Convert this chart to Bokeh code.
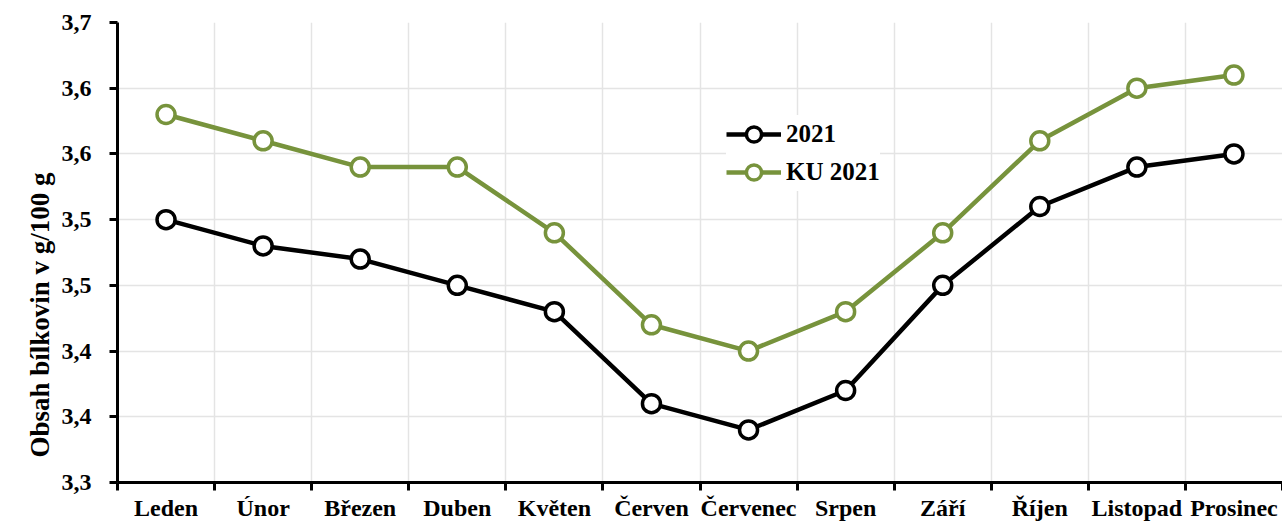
from bokeh.plotting import figure
from bokeh.models import Range1d, FixedTicker, Legend, LegendItem, Title
from bokeh.embed import file_html
from bokeh.resources import INLINE

months = ["Leden", "Únor", "Březen", "Duben", "Květen", "Červen", "Červenec",
          "Srpen", "Září", "Říjen", "Listopad", "Prosinec"]
series_2021 = [3.50, 3.48, 3.47, 3.45, 3.43, 3.36, 3.34, 3.37, 3.45, 3.51, 3.54, 3.55]
series_ku_2021 = [3.58, 3.56, 3.54, 3.54, 3.49, 3.42, 3.40, 3.43, 3.49, 3.56, 3.60, 3.61]
y_ticks = [3.30, 3.35, 3.40, 3.45, 3.50, 3.55, 3.60, 3.65]
y_tick_labels = ["3,3", "3,4", "3,4", "3,5", "3,5", "3,6", "3,6", "3,7"]
y_title = "Obsah bílkovin v g/100 g"

FONT = "Liberation Serif"
GREEN = "#77933C"

n = len(months)
xc = [i + 0.5 for i in range(n)]
bounds = list(range(n + 1))

p = figure(width=1282, height=523, output_backend="svg", toolbar_location=None,
           x_range=Range1d(0, n), y_range=Range1d(y_ticks[0], y_ticks[-1]),
           min_border_left=117, min_border_right=0, min_border_top=22,
           min_border_bottom=41)
p.outline_line_color = None
p.background_fill_color = "white"

# x axis: labels at centers, ticks at boundaries
p.xaxis.ticker = FixedTicker(ticks=xc, minor_ticks=bounds)
p.xaxis.major_label_overrides = {x: m for x, m in zip(xc, months)}
p.xaxis.major_tick_out = 0
p.xaxis.major_tick_in = 0
p.xaxis.minor_tick_out = 8
p.xaxis.minor_tick_in = 0
p.xaxis.minor_tick_line_width = 3
p.xaxis.minor_tick_line_color = "black"
p.xaxis.axis_line_width = 3
p.xaxis.axis_line_color = "black"
p.xaxis.major_label_text_font = FONT
p.xaxis.major_label_text_font_style = "bold"
p.xaxis.major_label_text_font_size = "24px"
p.xaxis.major_label_text_color = "black"
p.xaxis.major_label_standoff = 4

p.xgrid.ticker = FixedTicker(ticks=bounds[1:])
p.xgrid.grid_line_color = "#e4e4e4"
p.xgrid.grid_line_width = 1.5

# y axis
p.yaxis.ticker = FixedTicker(ticks=y_ticks)
p.yaxis.major_label_overrides = {t: l for t, l in zip(y_ticks, y_tick_labels)}
p.yaxis.major_tick_out = 8
p.yaxis.major_tick_in = 0
p.yaxis.major_tick_line_width = 3
p.yaxis.minor_tick_line_color = None
p.yaxis.axis_line_width = 3
p.yaxis.axis_line_color = "black"
p.yaxis.major_label_text_font = FONT
p.yaxis.major_label_text_font_style = "bold"
p.yaxis.major_label_text_font_size = "24px"
p.yaxis.major_label_text_color = "black"
p.yaxis.major_label_standoff = 18

p.ygrid.grid_line_color = "#e4e4e4"
p.ygrid.grid_line_width = 1.5

# y-axis title, placed lower than centre as in the original
p.add_layout(Title(text=y_title, align="left", offset=25, standoff=8,
                   text_font=FONT, text_font_style="bold",
                   text_font_size="27px", text_color="black"), "left")

l1 = p.line(xc, series_2021, line_color="black", line_width=4.5)
s1 = p.scatter(xc, series_2021, marker="circle", size=18, fill_color="white",
               line_color="black", line_width=3.5)
l2 = p.line(xc, series_ku_2021, line_color=GREEN, line_width=4.5)
s2 = p.scatter(xc, series_ku_2021, marker="circle", size=18, fill_color="white",
               line_color=GREEN, line_width=3.5)

legend = Legend(items=[LegendItem(label="2021", renderers=[l1, s1]),
                       LegendItem(label="KU 2021", renderers=[l2, s2])],
                location=(609, 291))
legend.border_line_color = None
legend.background_fill_color = "white"
legend.background_fill_alpha = 1
legend.padding = 8
legend.margin = 0
legend.spacing = 0
legend.glyph_width = 55
legend.glyph_height = 38
legend.label_height = 38
legend.label_standoff = 5
legend.label_text_font = FONT
legend.label_text_font_style = "bold"
legend.label_text_font_size = "25px"
legend.label_text_color = "black"
p.add_layout(legend, "center")

open("out.html", "w").write(file_html(p, INLINE))
